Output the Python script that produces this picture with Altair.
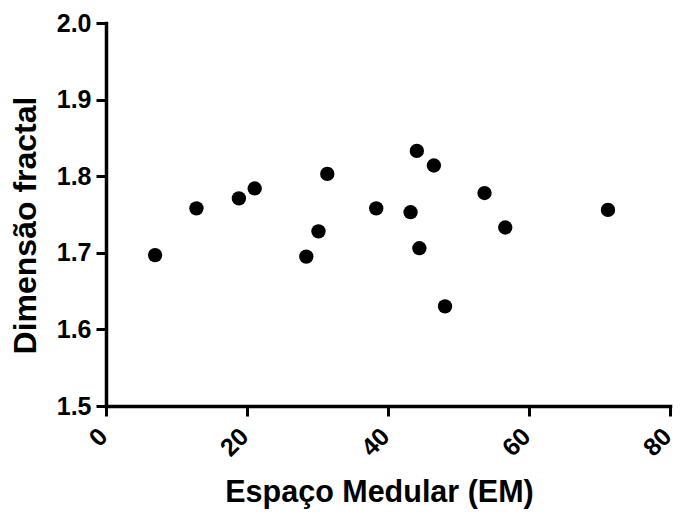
import altair as alt
import pandas as pd

espaco_medular = [6.96, 12.83, 18.85, 21.09, 28.41, 30.14, 31.39, 38.33, 43.2, 44.09, 44.45, 46.51, 48.09, 53.69, 56.63, 71.2]
dimensao_fractal = [1.697, 1.758, 1.771, 1.784, 1.695, 1.728, 1.803, 1.758, 1.753, 1.833, 1.706, 1.814, 1.630, 1.778, 1.733, 1.756]

df = pd.DataFrame({"EM": espaco_medular, "DF": dimensao_fractal})

FONT = "Liberation Sans"

chart = alt.Chart(df).mark_circle(size=205, color="black", opacity=1).encode(
    x=alt.X("EM:Q",
            scale=alt.Scale(domain=[0, 80], nice=False, zero=False),
            axis=alt.Axis(values=[0, 20, 40, 60, 80], title="Espaço Medular (EM)",
                          grid=False, labelAngle=-45, labelAlign="right", labelBaseline="middle",
                          labelPadding=16, labelOffset=-3, labelFontSize=25, labelFont=FONT, labelFontWeight="bold",
                          labelColor="black", tickSize=10, tickWidth=3, tickColor="black",
                          domainColor="black", domainWidth=3.5, domainCap="square",
                          titleFont=FONT, titleFontSize=30.5, titleFontWeight="bold", titleColor="black",
                          titleX=273, titleY=95, titleAlign="center", titleBaseline="alphabetic",
                          labelFlush=False, labelOverlap=False)),
    y=alt.Y("DF:Q",
            scale=alt.Scale(domain=[1.5, 2.0], nice=False, zero=False),
            axis=alt.Axis(values=[1.5, 1.6, 1.7, 1.8, 1.9, 2.0], format=".1f", title="Dimensão fractal",
                          grid=False, labelPadding=5, labelFontSize=25, labelFont=FONT,
                          labelFontWeight="bold", labelColor="black", tickSize=10, tickWidth=3,
                          tickColor="black", domainColor="black", domainWidth=3.5, domainCap="square",
                          titleFont=FONT, titleFontSize=32, titleFontWeight="bold", titleColor="black",
                          titleX=-71, titleY=202, titleAlign="center", titleBaseline="alphabetic",
                          titleAngle=-90, labelFlush=False, labelOverlap=False)),
).properties(
    width=564, height=383,
    autosize=alt.AutoSizeParams(type="none"),
    padding={"left": 98, "top": 15, "right": 6, "bottom": 103},
).configure_view(stroke=None)

chart.save("out.html", embed_options={"renderer": "svg", "actions": False})
